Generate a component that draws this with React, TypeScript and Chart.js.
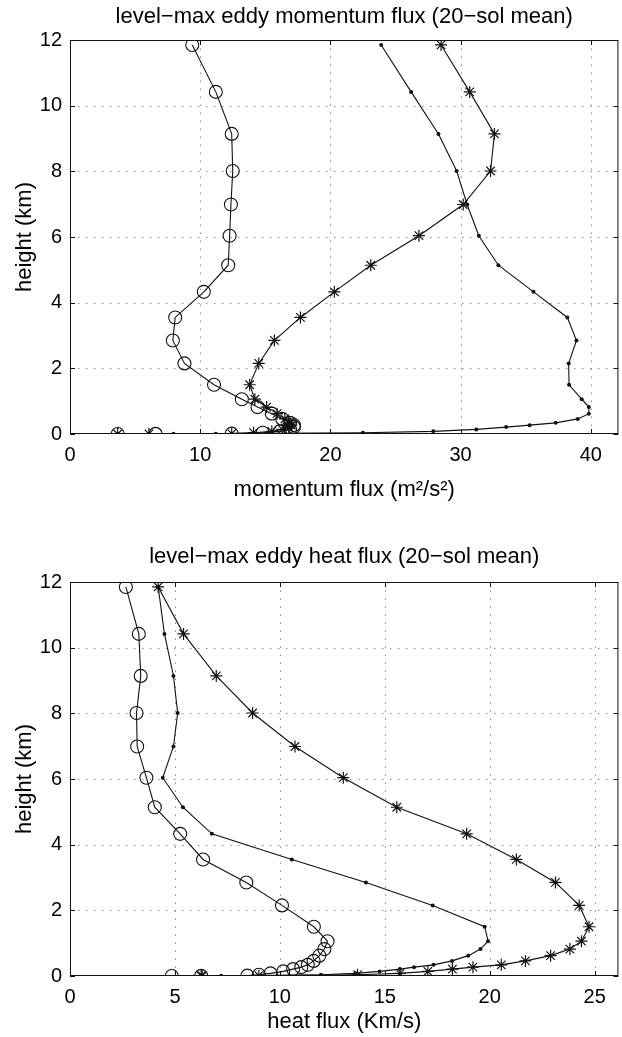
import React, { useEffect, useRef } from "react";
import { Chart, registerables } from "chart.js";

Chart.register(...registerables);

// model levels (km)
const HEIGHTS = [0, 0.005, 0.01, 0.04, 0.08, 0.14, 0.21, 0.27, 0.34, 0.46, 0.62, 0.82, 1.06, 1.5, 2.15, 2.85, 3.55, 4.33, 5.14, 6.04, 6.99, 8.01, 9.14, 10.42, 11.85];

// momentum flux (m^2/s^2)
const MOM_CIRCLE = [3.66, 6.57, 12.42, 14.8, 16.1, 16.9, 17.2, 17.2, 16.9, 16.3, 15.5, 14.4, 13.2, 11.06, 8.79, 7.9, 8.08, 10.28, 12.15, 12.26, 12.36, 12.5, 12.42, 11.2, 9.39];
const MOM_DOT = [3.66, 7.95, 11.2, 22.5, 27.9, 31.2, 33.5, 35.3, 37.3, 39.0, 39.85, 39.85, 39.3, 38.33, 38.3, 38.9, 38.2, 35.6, 32.9, 31.4, 30.5, 29.7, 28.3, 26.2, 23.9];
const MOM_STAR = [3.66, 6.06, 12.42, 14.1, 15.5, 16.3, 16.8, 17.0, 16.9, 16.5, 15.9, 15.1, 14.2, 13.8, 14.5, 15.7, 17.7, 20.3, 23.1, 26.8, 30.2, 32.3, 32.6, 30.7, 28.5];

// heat flux (K m/s)
const HEAT_CIRCLE = [4.85, 6.25, 8.45, 9.0, 9.55, 10.16, 10.63, 11.02, 11.33, 11.61, 11.88, 12.12, 12.27, 11.62, 10.1, 8.4, 6.34, 5.25, 4.04, 3.64, 3.2, 3.17, 3.37, 3.28, 2.66];
const HEAT_DOT = [6.3, 7.2, 9.0, 11.96, 13.6, 14.75, 15.72, 16.39, 17.32, 18.2, 18.98, 19.56, 19.92, 19.76, 17.28, 14.1, 10.57, 6.76, 5.38, 4.42, 4.93, 5.13, 4.93, 4.5, 4.2];
const HEAT_STAR = [6.25, 6.3, 9.0, 13.7, 15.72, 17.05, 18.22, 19.2, 20.55, 21.7, 22.9, 23.82, 24.37, 24.73, 24.26, 23.13, 21.27, 18.9, 15.57, 13.02, 10.72, 8.7, 6.97, 5.41, 4.2];

const MOM_TITLE = "level−max eddy momentum flux (20−sol mean)";
const MOM_XLABEL = "momentum flux (m²/s²)";
const HEAT_TITLE = "level−max eddy heat flux (20−sol mean)";
const HEAT_XLABEL = "heat flux (Km/s)";
const YLABEL = "height (km)";

const FONT = "'Liberation Sans', Arial, Helvetica, sans-serif";
const INK = "#111111";
const TICK_SIZE = 20;
const LABEL_SIZE = 22;

const boxPlugin = {
  id: "matlabBox",
  beforeDatasetsDraw(chart: any) {
    const { ctx, chartArea, scales } = chart;
    const { left, right, top, bottom } = chartArea;
    ctx.save();
    ctx.strokeStyle = "rgba(0,0,0,0.45)";
    ctx.lineWidth = 1;
    ctx.setLineDash([1.5, 6.5]);
    scales.x.ticks.forEach((t: any) => {
      const px = Math.round(scales.x.getPixelForValue(t.value)) + 0.5;
      if (px <= left + 2 || px >= right - 2) return;
      ctx.beginPath();
      ctx.moveTo(px, bottom);
      ctx.lineTo(px, top);
      ctx.stroke();
    });
    scales.y.ticks.forEach((t: any) => {
      const py = Math.round(scales.y.getPixelForValue(t.value)) + 0.5;
      if (py <= top + 2 || py >= bottom - 2) return;
      ctx.beginPath();
      ctx.moveTo(left, py);
      ctx.lineTo(right, py);
      ctx.stroke();
    });
    ctx.setLineDash([]);
    ctx.strokeStyle = INK;
    ctx.lineWidth = 1;
    ctx.strokeRect(left + 0.5, top + 0.5, right - left - 1, bottom - top - 1);
    const L = 5;
    scales.x.ticks.forEach((t: any) => {
      const px = Math.round(scales.x.getPixelForValue(t.value)) + 0.5;
      ctx.beginPath();
      ctx.moveTo(px, bottom);
      ctx.lineTo(px, bottom - L);
      ctx.moveTo(px, top);
      ctx.lineTo(px, top + L);
      ctx.stroke();
    });
    scales.y.ticks.forEach((t: any) => {
      const py = Math.round(scales.y.getPixelForValue(t.value)) + 0.5;
      ctx.beginPath();
      ctx.moveTo(left, py);
      ctx.lineTo(left + L, py);
      ctx.moveTo(right, py);
      ctx.lineTo(right - L, py);
      ctx.stroke();
    });
    ctx.restore();
  },
};

type Cfg = {
  title: string;
  xlabel: string;
  circle: number[];
  dot: number[];
  star: number[];
  xmax: number;
  xstep: number;
  width: number;
  height: number;
  titlePad: { top: number; bottom: number };
  xScaleHeight: number;
  xTitleBottom: number;
};

function mk(values: number[]) {
  return values.map((v, i) => ({ x: v, y: HEIGHTS[i] }));
}

function FluxChart(props: Cfg) {
  const ref = useRef<HTMLCanvasElement | null>(null);
  useEffect(() => {
    if (!ref.current) return;
    const common = {
      borderColor: INK,
      borderWidth: 1.1,
      showLine: true,
      tension: 0,
      fill: false,
    };
    const chart = new Chart(ref.current, {
      type: "scatter",
      data: {
        datasets: [
          {
            ...common,
            data: mk(props.circle),
            pointStyle: "circle",
            pointRadius: 6.5,
            pointBorderWidth: 1.1,
            pointBorderColor: INK,
            pointBackgroundColor: "rgba(0,0,0,0)",
          },
          {
            ...common,
            data: mk(props.dot),
            pointStyle: "circle",
            pointRadius: 2,
            pointBorderWidth: 0,
            pointBackgroundColor: INK,
            pointBorderColor: INK,
          },
          {
            ...common,
            data: mk(props.star),
            pointStyle: "star",
            pointRadius: 6,
            pointBorderWidth: 1.2,
            pointBorderColor: INK,
            pointBackgroundColor: INK,
          },
        ],
      } as any,
      options: {
        animation: false,
        responsive: false,
        devicePixelRatio: 1,
        layout: { padding: 0 },
        plugins: {
          legend: { display: false },
          tooltip: { enabled: false },
          title: {
            display: true,
            text: props.title,
            fullSize: false,
            color: "#000",
            font: { family: FONT, size: LABEL_SIZE, weight: "normal", lineHeight: 1.2 },
            padding: props.titlePad,
          },
        },
        scales: {
          x: {
            type: "linear",
            min: 0,
            max: props.xmax,
            grid: { display: false, drawTicks: false },
            border: { display: false },
            ticks: {
              stepSize: props.xstep,
              includeBounds: false,
              padding: 9,
              color: "#000",
              maxRotation: 0,
              font: { family: FONT, size: TICK_SIZE, lineHeight: 1.2 },
            },
            title: {
              display: true,
              text: props.xlabel,
              color: "#000",
              font: { family: FONT, size: LABEL_SIZE, lineHeight: 1.2 },
              padding: { top: 0, bottom: props.xTitleBottom },
            },
            afterFit: (s: any) => {
              s.height = props.xScaleHeight;
            },
          },
          y: {
            type: "linear",
            min: 0,
            max: 12,
            grid: { display: false, drawTicks: false },
            border: { display: false },
            ticks: {
              stepSize: 2,
              padding: 8,
              color: "#000",
              font: { family: FONT, size: TICK_SIZE, lineHeight: 1.2 },
            },
            title: {
              display: true,
              text: YLABEL,
              color: "#000",
              font: { family: FONT, size: LABEL_SIZE, lineHeight: 1.2 },
              padding: { top: 12, bottom: 0 },
            },
            afterFit: (s: any) => {
              s.width = 70;
            },
          },
        },
      } as any,
      plugins: [boxPlugin],
    });
    return () => chart.destroy();
  }, []);
  return (
    <canvas
      ref={ref}
      width={props.width}
      height={props.height}
      style={{ display: "block", width: props.width, height: props.height }}
    />
  );
}

export default function App() {
  return (
    <div
      style={{
        position: "absolute",
        left: 0,
        top: 0,
        width: 622,
        height: 1037,
        overflow: "hidden",
        background: "#fff",
      }}
    >
      <div style={{ position: "absolute", left: 0, top: 0 }}>
        <FluxChart
          title={MOM_TITLE}
          xlabel={MOM_XLABEL}
          circle={MOM_CIRCLE}
          dot={MOM_DOT}
          star={MOM_STAR}
          xmax={42.12}
          xstep={10}
          width={626}
          height={520}
          titlePad={{ top: 3.3, bottom: 10.3 }}
          xScaleHeight={86}
          xTitleBottom={16.8}
        />
      </div>
      <div style={{ position: "absolute", left: 0, top: 520 }}>
        <FluxChart
          title={HEAT_TITLE}
          xlabel={HEAT_XLABEL}
          circle={HEAT_CIRCLE}
          dot={HEAT_DOT}
          star={HEAT_STAR}
          xmax={26.13}
          xstep={5}
          width={626}
          height={517}
          titlePad={{ top: 23.8, bottom: 11.8 }}
          xScaleHeight={61}
          xTitleBottom={1.8}
        />
      </div>
    </div>
  );
}
